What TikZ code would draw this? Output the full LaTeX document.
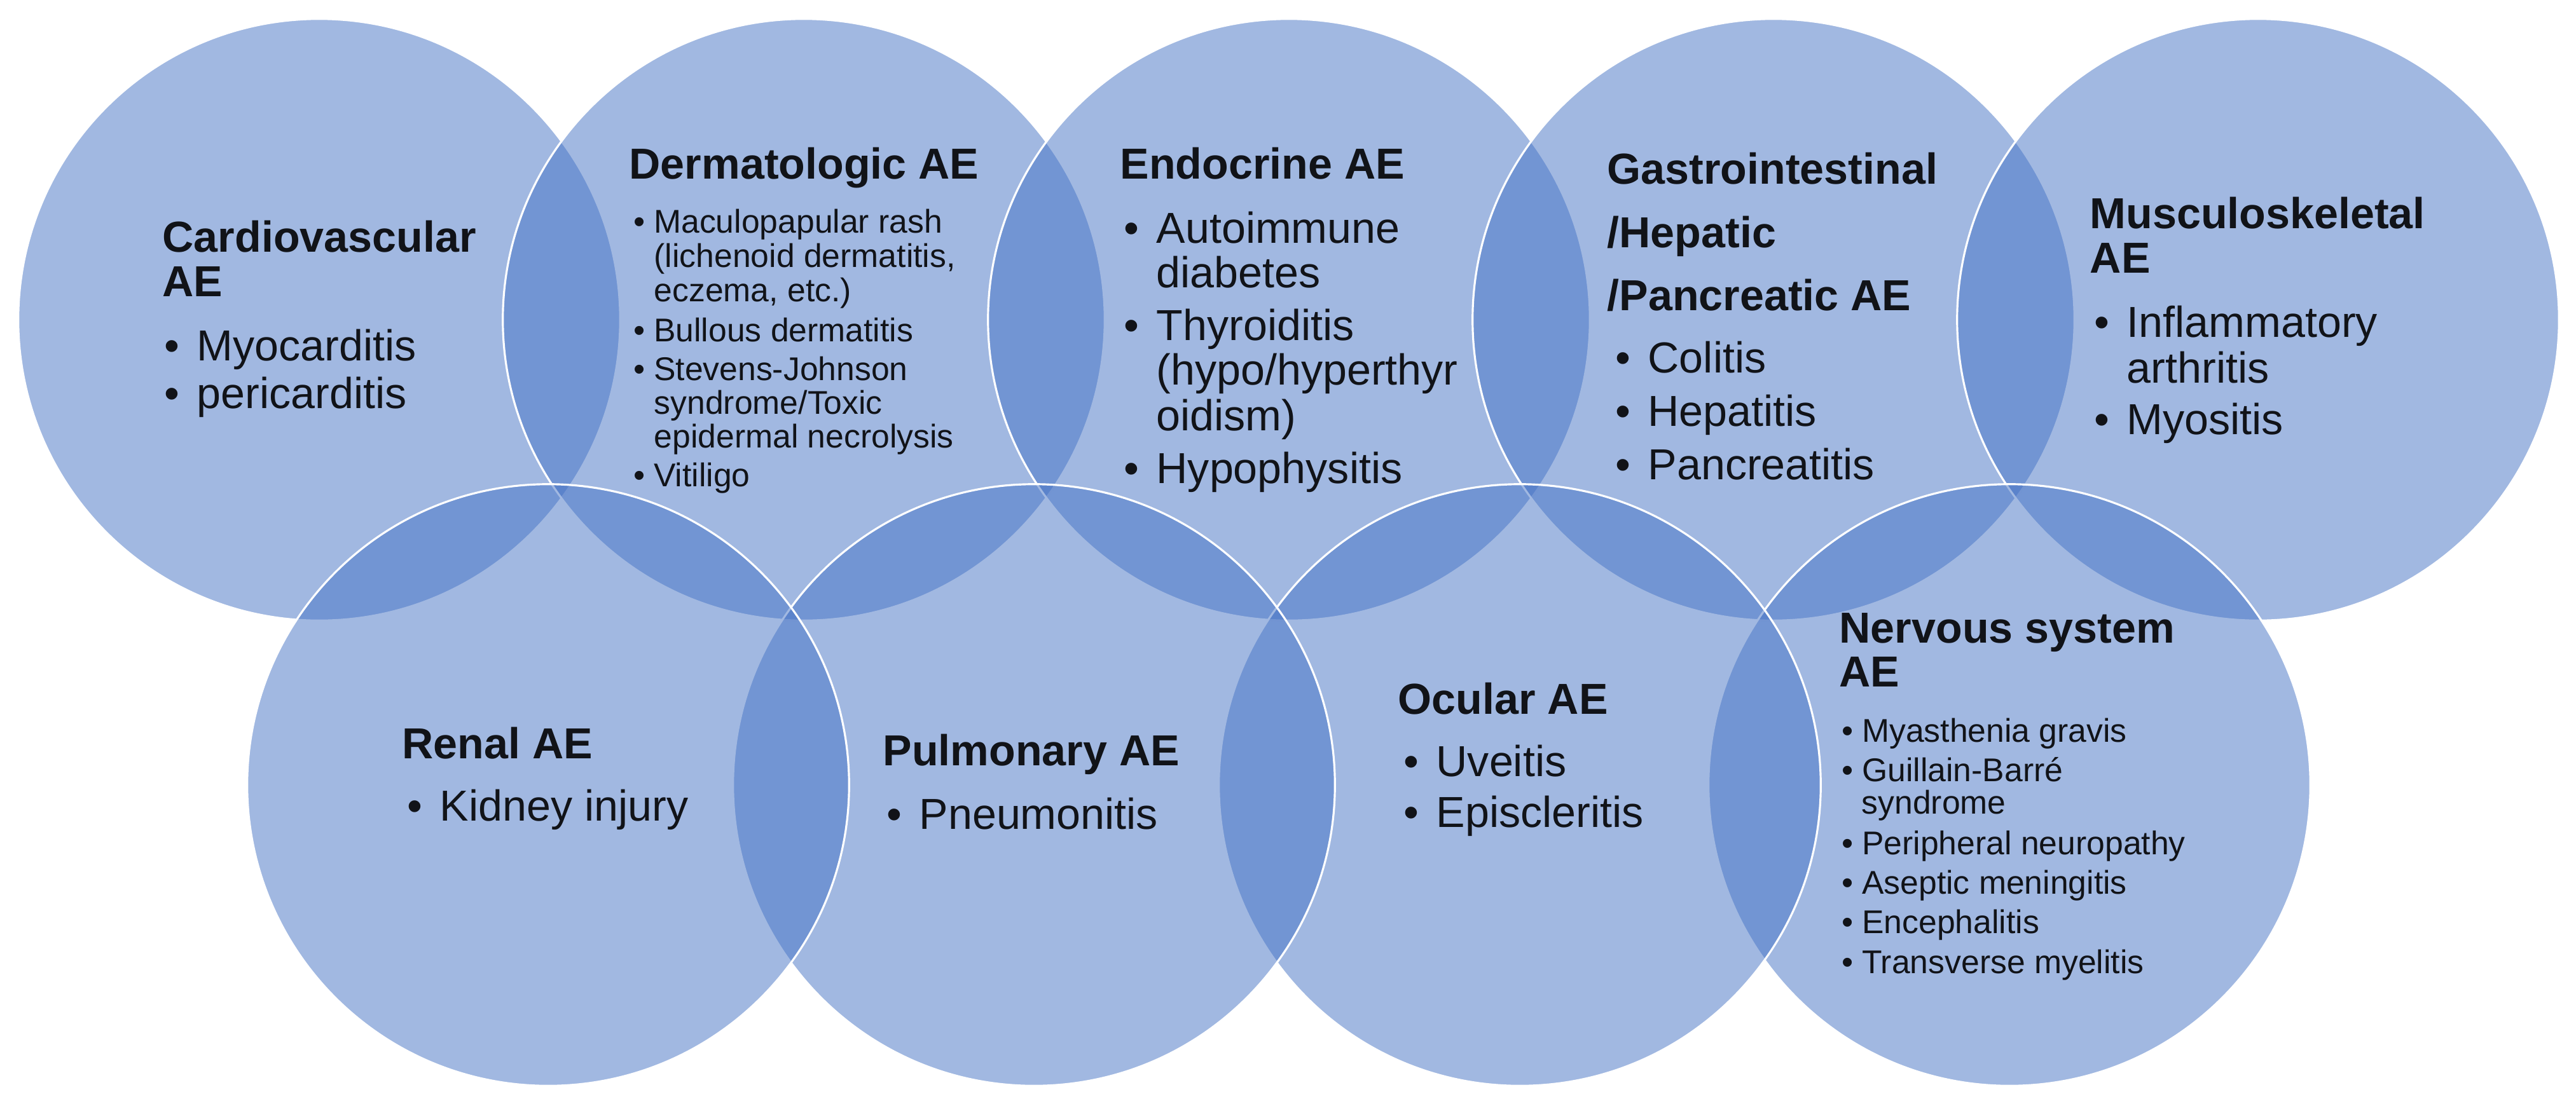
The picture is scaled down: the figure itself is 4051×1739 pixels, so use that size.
\documentclass[tikz,border=0pt]{standalone}
\usepackage{fontspec}
\setmainfont{Liberation Sans}
\definecolor{cblue}{HTML}{4472C4}
\definecolor{txtc}{HTML}{111318}
\newcommand\mybulL{\makebox[0.51cm][l]{\textbullet}}
\newcommand\mybulS{\makebox[0.315cm][l]{\textbullet}}
\begin{document}
\begin{tikzpicture}[x=0.01cm,y=-0.01cm,
  circ/.style={circle,inner sep=0pt,minimum size=9.46cm,fill=cblue,fill opacity=0.5,draw=white,draw opacity=1,line width=0.9pt},
  ttl/.style={anchor=base west,inner sep=0pt,text=txtc,font=\fontsize{19.4}{22}\selectfont\bfseries},
  itm/.style={anchor=base west,inner sep=0pt,text=txtc,font=\fontsize{19.4}{22}\selectfont},
  sitm/.style={anchor=base west,inner sep=0pt,text=txtc,font=\fontsize{14.7}{17}\selectfont}]
\path[use as bounding box] (0,0) rectangle (4051,1739);
% top row, left to right
\node[circ] (cv) at (502,503) {};
\node[circ] (de) at (1264,503) {};
\node[circ] (en) at (2027,503) {};
\node[circ] (gi) at (2789,503) {};
\node[circ] (mu) at (3551,503) {};
% bottom row, right to left
\node[circ] (ne) at (3160,1235) {};
\node[circ] (oc) at (2390,1235) {};
\node[circ] (pu) at (1626,1235) {};
\node[circ] (re) at (862,1235) {};
% Cardiovascular
\node[ttl] (cv1) at (255,396) {Cardiovascular};
\node[ttl] (cv2) at (255,466) {AE};
\node[itm] (cv3) at (258,567) {\mybulL Myocarditis};
\node[itm] (cv4) at (258,642) {\mybulL pericarditis};
% Dermatologic
\node[ttl] (de1) at (989,281) {Dermatologic AE};
\node[sitm] (de2) at (996,366) {\mybulS Maculopapular rash};
\node[sitm] (de3) at (1028,420) {(lichenoid dermatitis,};
\node[sitm] (de4) at (1028,474) {eczema, etc.)};
\node[sitm] (de5) at (996,537) {\mybulS Bullous dermatitis};
\node[sitm] (de6) at (996,598) {\mybulS Stevens-Johnson};
\node[sitm] (de7) at (1028,651) {syndrome/Toxic};
\node[sitm] (de8) at (1028,704) {epidermal necrolysis};
\node[sitm] (de9) at (996,765) {\mybulS Vitiligo};
% Endocrine
\node[ttl] (en1) at (1761,281) {Endocrine AE};
\node[itm] (en2) at (1767,382) {\mybulL Autoimmune};
\node[itm] (en3) at (1818,452) {diabetes};
\node[itm] (en4) at (1767,535) {\mybulL Thyroiditis};
\node[itm] (en5) at (1818,605) {(hypo/hyperthyr};
\node[itm] (en6) at (1818,677) {oidism)};
\node[itm] (en7) at (1767,760) {\mybulL Hypophysitis};
% Gastrointestinal
\node[ttl] (gi1) at (2527,289) {Gastrointestinal};
\node[ttl] (gi2) at (2527,389) {/Hepatic};
\node[ttl] (gi3) at (2527,488) {/Pancreatic AE};
\node[itm] (gi4) at (2540,586) {\mybulL Colitis};
\node[itm] (gi5) at (2540,670) {\mybulL Hepatitis};
\node[itm] (gi6) at (2540,754) {\mybulL Pancreatitis};
% Musculoskeletal
\node[ttl] (mu1) at (3286,359) {Musculoskeletal};
\node[ttl] (mu2) at (3286,429) {AE};
\node[itm] (mu3) at (3293,530) {\mybulL Inflammatory};
\node[itm] (mu4) at (3344,602) {arthritis};
\node[itm] (mu5) at (3293,683) {\mybulL Myositis};
% Renal
\node[ttl] (re1) at (632,1193) {Renal AE};
\node[itm] (re2) at (640,1291) {\mybulL Kidney injury};
% Pulmonary
\node[ttl] (pu1) at (1388,1204) {Pulmonary AE};
\node[itm] (pu2) at (1394,1304) {\mybulL Pneumonitis};
% Ocular
\node[ttl] (oc1) at (2198,1123) {Ocular AE};
\node[itm] (oc2) at (2207,1221) {\mybulL Uveitis};
\node[itm] (oc3) at (2207,1301) {\mybulL Episcleritis};
% Nervous system
\node[ttl] (ne1) at (2892,1011) {Nervous system};
\node[ttl] (ne2) at (2892,1080) {AE};
\node[sitm] (ne3) at (2896,1167) {\mybulS Myasthenia gravis};
\node[sitm] (ne4) at (2896,1229) {\mybulS Guillain-Barré};
\node[sitm] (ne5) at (2927,1280) {syndrome};
\node[sitm] (ne6) at (2896,1344) {\mybulS Peripheral neuropathy};
\node[sitm] (ne7) at (2896,1406) {\mybulS Aseptic meningitis};
\node[sitm] (ne8) at (2896,1468) {\mybulS Encephalitis};
\node[sitm] (ne9) at (2896,1531) {\mybulS Transverse myelitis};
\end{tikzpicture}
\end{document}
